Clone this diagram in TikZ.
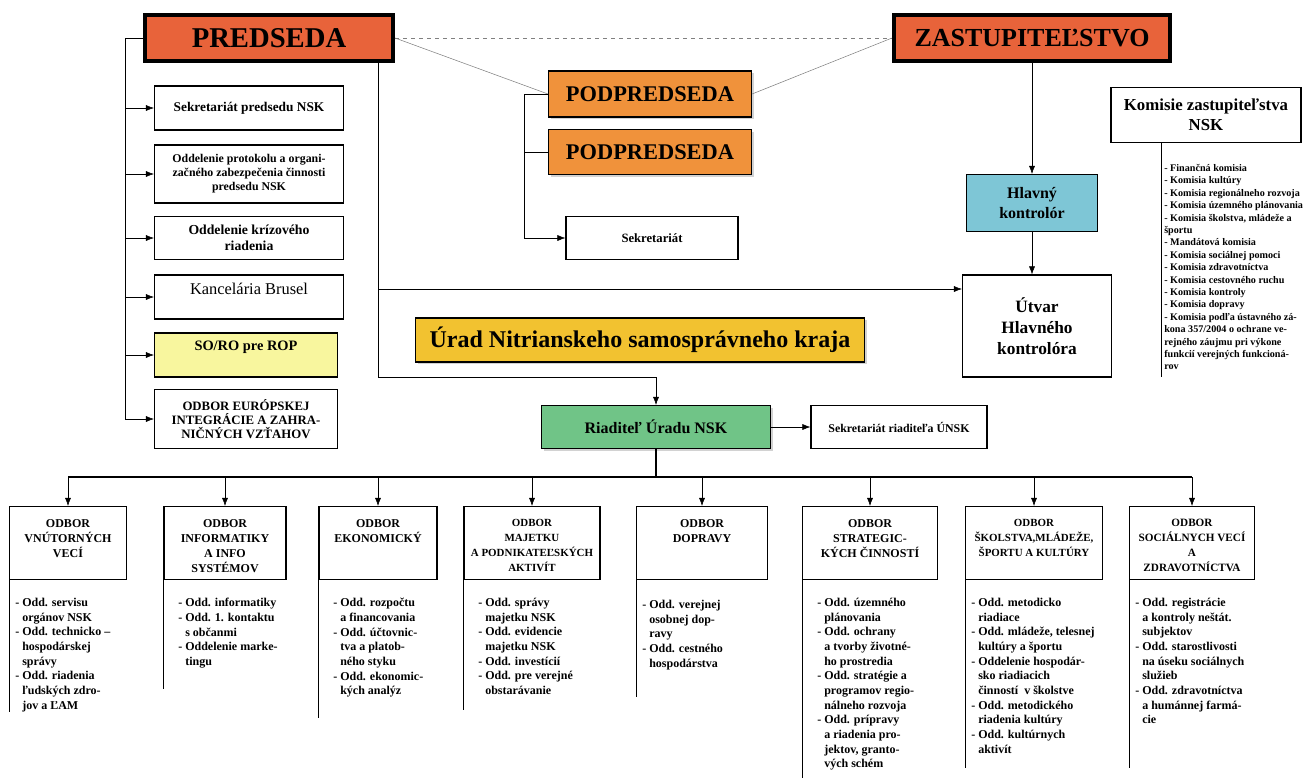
\documentclass[tikz,border=0pt]{standalone}
\usepackage{fontspec}
\setmainfont{Liberation Serif}
\usetikzlibrary{arrows.meta,positioning,shadows}

\definecolor{predc}{HTML}{E8633A}
\definecolor{podc}{HTML}{F0923B}
\definecolor{kontc}{HTML}{7EC6D6}
\definecolor{uradc}{HTML}{F2C230}
\definecolor{riadc}{HTML}{70C487}
\definecolor{soroc}{HTML}{F8F69E}
\newcommand{\ind}{\hphantom{- }}

\tikzset{
  sz/.style 2 args={minimum width=#1*0.75pt, minimum height=#2*0.75pt},
  shd/.style={drop shadow={shadow xshift=1.5pt, shadow yshift=-1.5pt, fill=black!35}},
  box/.style={draw, thick, fill=white, inner sep=1pt, align=center, font=\bfseries\fontsize{10}{12}\selectfont},
  head/.style={draw, line width=3pt, fill=predc, align=center, font=\bfseries\fontsize{19.5}{22}\selectfont, shd},
  sub/.style={box, fill=podc, font=\bfseries\fontsize{16.8}{18}\selectfont, shd},
  hd/.style={anchor=north, align=center, inner sep=1pt, yshift=-9pt, font=\bfseries\fontsize{9}{11.2}\selectfont},
  list/.style={anchor=north west, align=left, inner sep=0pt, font=\bfseries\fontsize{9}{11}\selectfont}
}

\begin{document}
\begin{tikzpicture}[x=0.75pt, y=-0.75pt, >={Latex[length=6pt,width=4.5pt]}]
  \useasboundingbox (0,0) rectangle (1311,778);

  \node[head, sz={248}{46}, font=\bfseries\fontsize{21.5}{24}\selectfont] (predseda) at (269,38) {PREDSEDA};
  \node[head, sz={276}{46}] (zast) at (1032,38) {ZASTUPITEĽSTVO};
  \node[sub, sz={203}{46}] (podp1) at (650,94) {PODPREDSEDA};
  \node[sub, sz={203}{45}] (podp2) at (650,152) {PODPREDSEDA};
  \node[box, sz={172}{43}, font=\bfseries\fontsize{9.5}{11}\selectfont] (sekr) at (652,238) {Sekretariát};

  \node[box, sz={189}{44}] (sekp) at (249,108) {Sekretariát predsedu NSK};
  \node[box, sz={189}{58}, font=\bfseries\fontsize{8.9}{10.5}\selectfont] (prot) at (249,174) {Oddelenie protokolu a organi-\\začného zabezpečenia činnosti\\predsedu NSK};
  \node[box, sz={189}{43}, font=\bfseries\fontsize{10.3}{12}\selectfont] (kriz) at (249,238) {Oddelenie krízového\\riadenia};
  \node[box, sz={189}{44}, label={[hd, yshift=4pt, font=\fontsize{12.3}{14}\selectfont]north:{Kancelária Brusel}}] (brus) at (249,297) {};
  \node[box, fill=soroc, sz={183}{44}, label={[hd, yshift=4pt, font=\bfseries\fontsize{10.8}{12}\selectfont]north:{SO/RO pre ROP}}] (soro) at (246,355) {};
  \node[box, sz={183}{59}, font=\bfseries\fontsize{9.6}{10.5}\selectfont] (euro) at (246,419) {ODBOR EURÓPSKEJ\\INTEGRÁCIE A ZAHRA-\\NIČNÝCH VZŤAHOV};

  \node[box, fill=kontc, sz={131}{57}, font=\bfseries\fontsize{12}{15}\selectfont] (hk) at (1032,203) {Hlavný\\kontrolór};
  \node[box, sz={149}{102}, font=\bfseries\fontsize{13}{16}\selectfont] (utvar) at (1037,326) {Útvar\\Hlavného\\kontrolóra};
  \node[box, sz={190}{55}, font=\bfseries\fontsize{12.6}{15}\selectfont] (kom) at (1206,115) {Komisie zastupiteľstva\\NSK};
  \node[list, font=\bfseries\fontsize{7.6}{9.3}\selectfont] (komlist) at (1164,164) {- Finančná komisia\\- Komisia kultúry\\- Komisia regionálneho rozvoja\\- Komisia územného plánovania\\- Komisia školstva, mládeže a\\športu\\- Mandátová komisia\\- Komisia sociálnej pomoci\\- Komisia zdravotníctva\\- Komisia cestovného ruchu\\- Komisia kontroly\\- Komisia dopravy\\- Komisia podľa ústavného zá-\\kona 357/2004 o ochrane ve-\\rejného záujmu pri výkone\\funkcií verejných funkcioná-\\rov};

  \node[box, fill=uradc, sz={449}{44}, font=\bfseries\fontsize{18}{20}\selectfont, shd] (urad) at (640,340) {Úrad Nitrianskeho samosprávneho kraja};
  \node[box, fill=riadc, sz={229}{43}, font=\bfseries\fontsize{12}{14}\selectfont, shd] (riad) at (656,427) {Riaditeľ Úradu NSK};
  \node[box, sz={176}{43}, font=\bfseries\fontsize{8.9}{10}\selectfont] (sekr2) at (899,427) {Sekretariát riaditeľa ÚNSK};

  \node[box, sz={117}{73}, label={[hd]north:{ODBOR\\VNÚTORNÝCH\\VECÍ}}] (o1) at (68,543) {};
  \node[box, sz={122}{73}, label={[hd]north:{ODBOR\\INFORMATIKY\\A INFO\\SYSTÉMOV}}] (o2) at (225,543) {};
  \node[box, sz={118}{73}, label={[hd]north:{ODBOR\\EKONOMICKÝ}}] (o3) at (378,543) {};
  \node[box, sz={136}{73}, label={[hd, font=\bfseries\fontsize{8.2}{11.2}\selectfont]north:{ODBOR\\MAJETKU\\A PODNIKATEĽSKÝCH\\AKTIVÍT}}] (o4) at (532,543) {};
  \node[box, sz={131}{73}, label={[hd]north:{ODBOR\\DOPRAVY}}] (o5) at (702,543) {};
  \node[box, sz={135}{73}, label={[hd]north:{ODBOR\\STRATEGIC-\\KÝCH ČINNOSTÍ}}] (o6) at (870,543) {};
  \node[box, sz={137}{73}, label={[hd, font=\bfseries\fontsize{8.2}{11.2}\selectfont]north:{ODBOR\\ŠKOLSTVA,MLÁDEŽE,\\ŠPORTU A KULTÚRY}}] (o7) at (1034,543) {};
  \node[box, sz={125}{73}, label={[hd, font=\bfseries\fontsize{8.4}{11.2}\selectfont]north:{ODBOR\\SOCIÁLNYCH VECÍ\\A\\ZDRAVOTNÍCTVA}}] (o8) at (1192,543) {};

  \node[list] (l1) at (15,598) {- Odd. servisu\\\ind orgánov NSK\\- Odd. technicko --\\\ind hospodárskej\\\ind správy\\- Odd. riadenia\\\ind ľudských zdro-\\\ind jov a ĽAM};
  \node[list] (l2) at (178,598) {- Odd. informatiky\\- Odd. 1. kontaktu\\\ind s občanmi\\- Oddelenie marke-\\\ind tingu};
  \node[list] (l3) at (333,598) {- Odd. rozpočtu\\\ind a financovania\\- Odd. účtovnic-\\\ind tva a platob-\\\ind ného styku\\- Odd. ekonomic-\\\ind kých analýz};
  \node[list] (l4) at (478,598) {- Odd. správy\\\ind majetku NSK\\- Odd. evidencie\\\ind majetku NSK\\- Odd. investícií\\- Odd. pre verejné\\\ind obstarávanie};
  \node[list] (l5) at (642,600) {- Odd. verejnej\\\ind osobnej dop-\\\ind ravy\\- Odd. cestného\\\ind hospodárstva};
  \node[list] (l6) at (817,598) {- Odd. územného\\\ind plánovania\\- Odd. ochrany\\\ind a tvorby životné-\\\ind ho prostredia\\- Odd. stratégie a\\\ind programov regio-\\\ind nálneho rozvoja\\- Odd. prípravy\\\ind a riadenia pro-\\\ind jektov, granto-\\\ind vých schém};
  \node[list] (l7) at (971,598) {- Odd. metodicko\\\ind riadiace\\- Odd. mládeže, telesnej\\\ind kultúry a športu\\- Oddelenie hospodár-\\\ind sko riadiacich\\\ind činností \ v školstve\\- Odd. metodického\\\ind riadenia kultúry\\- Odd. kultúrnych\\\ind aktivít};
  \node[list] (l8) at (1135,598) {- Odd. registrácie\\\ind a kontroly neštát.\\\ind subjektov\\- Odd. starostlivosti\\\ind na úseku sociálnych\\\ind služieb\\- Odd. zdravotníctva\\\ind a humánnej farmá-\\\ind cie};

  \coordinate (lb) at (125,420);
  \coordinate (pb) at (378,377);
  \coordinate (pu) at (378,289);
  \coordinate (vb) at (524,238);
  \coordinate (kb) at (1161,377);
  \coordinate (bb) at (656,477);

  \draw[gray, dashed] (predseda.east) -- (zast.west);
  \draw[gray] (predseda.east) -- (podp1.west);
  \draw[gray] (podp1.east) -- (zast.west);

  \draw (predseda.west) -| (lb);
  \draw[->] (sekp.west -| lb) -- (sekp.west);
  \draw[->] (prot.west -| lb) -- (prot.west);
  \draw[->] (kriz.west -| lb) -- (kriz.west);
  \draw[->] (brus.west -| lb) -- (brus.west);
  \draw[->] (soro.west -| lb) -- (soro.west);
  \draw[->] (euro.west -| lb) -- (euro.west);

  \draw[->] (predseda.south -| pb) -- (pb) -| (riad.north);
  \draw[->] (pu) -- (pu -| utvar.west);

  \draw (podp1.west) -| (vb);
  \draw (podp2.west) -- (podp2.west -| vb);
  \draw[->] (vb) -- (sekr.west);

  \draw[->] (zast.south) -- (hk.north);
  \draw[->] (hk.south) -- (hk.south |- utvar.north);
  \draw (kom.south -| kb) -- (kb);

  \draw[->] (riad) -- (sekr2);
  \draw[line width=1.6pt] (riad.south) -- (bb);
  \draw[line width=1.2pt] (o1.north |- bb) -- (o8.north |- bb);
  \draw[->] (o1.north |- bb) -- (o1.north);
  \draw[->] (o2.north |- bb) -- (o2.north);
  \draw[->] (o3.north |- bb) -- (o3.north);
  \draw[->] (o4.north |- bb) -- (o4.north);
  \draw[->] (o5.north |- bb) -- (o5.north);
  \draw[->] (o6.north |- bb) -- (o6.north);
  \draw[->] (o7.north |- bb) -- (o7.north);
  \draw[->] (o8.north |- bb) -- (o8.north);

  \draw (o1.south west) -- ++(0,132);
  \draw (o2.south west) -- ++(0,109);
  \draw (o3.south west) -- ++(0,138);
  \draw (o4.south west) -- ++(0,130);
  \draw (o5.south west) -- ++(0,117);
  \draw (o6.south west) -- ++(0,198);
  \draw (o7.south west) -- ++(0,188);
  \draw (o8.south west) -- ++(0,188);
\end{tikzpicture}
\end{document}
